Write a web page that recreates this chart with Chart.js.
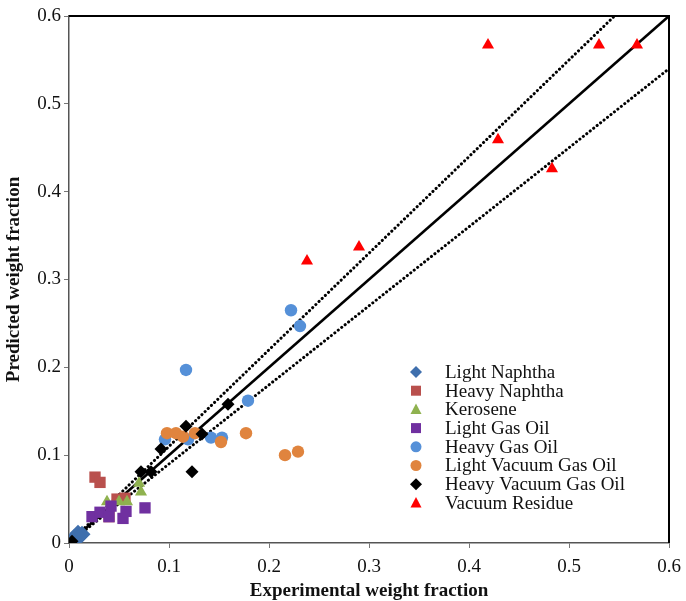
<!DOCTYPE html>
<html>
<head>
<meta charset="utf-8">
<script src="https://cdn.jsdelivr.net/npm/chart.js@4.4.0/dist/chart.umd.min.js"></script>
<style>
  html, body { margin: 0; padding: 0; background: #fff; }
  #wrap { width: 686px; height: 601px; }
</style>
</head>
<body>
<div id="wrap"><canvas id="chart"></canvas></div>
<script>
// series names (legend order)
const seriesNames = ["Light Naphtha", "Heavy Naphtha", "Kerosene", "Light Gas Oil",
  "Heavy Gas Oil", "Light Vacuum Gas Oil", "Heavy Vacuum Gas Oil", "Vacuum Residue"];

// experimental (x) and predicted (y) weight fractions
const lightNaphthaX = [0.005, 0.009, 0.013, 0.010];
const lightNaphthaY = [0.006, 0.011, 0.010, 0.007];
const heavyNaphthaX = [0.026, 0.031, 0.048, 0.056, 0.040];
const heavyNaphthaY = [0.075, 0.069, 0.050, 0.051, 0.030];
const keroseneX = [0.070, 0.072, 0.058, 0.038, 0.050];
const keroseneY = [0.068, 0.058, 0.047, 0.047, 0.047];
const lightGasOilX = [0.023, 0.031, 0.040, 0.042, 0.054, 0.057, 0.076];
const lightGasOilY = [0.030, 0.035, 0.030, 0.042, 0.028, 0.036, 0.040];
const heavyGasOilX = [0.222, 0.231, 0.117, 0.179, 0.096, 0.119, 0.142, 0.153];
const heavyGasOilY = [0.265, 0.247, 0.197, 0.162, 0.118, 0.118, 0.120, 0.120];
const lvgoX = [0.098, 0.107, 0.114, 0.126, 0.152, 0.177, 0.216, 0.229];
const lvgoY = [0.125, 0.125, 0.121, 0.125, 0.115, 0.125, 0.100, 0.104];
const hvgoX = [0.159, 0.117, 0.133, 0.092, 0.072, 0.082, 0.123, 0.003];
const hvgoY = [0.158, 0.133, 0.124, 0.107, 0.081, 0.081, 0.081, 0.002];
const vacResidueX = [0.419, 0.530, 0.568, 0.429, 0.483, 0.290, 0.238];
const vacResidueY = [0.567, 0.567, 0.567, 0.459, 0.426, 0.337, 0.321];

// parity line and +/-10% band end points
const parityX = [0, 0.6];
const parityY = [0, 0.6];
const upperX = [0, 0.5455];
const upperY = [0, 0.6];
const lowerX = [0, 0.6];
const lowerY = [0, 0.54];

const ticksX = [0, 0.1, 0.2, 0.3, 0.4, 0.5, 0.6];

function pts(xs, ys) {
  return xs.map((x, i) => ({ x: x, y: ys[i] }));
}

const serif = "'Liberation Serif', 'Times New Roman', serif";

const markerDefs = [
  { color: "#3F6FAD", style: "rectRot", r: 8.5 },
  { color: "#B9504D", style: "rect", r: 8 },
  { color: "#8FB24F", style: "triangle", r: 7 },
  { color: "#7030A0", style: "rect", r: 8 },
  { color: "#5590D8", style: "circle", r: 6.2 },
  { color: "#E0843E", style: "circle", r: 6.2 },
  { color: "#000000", style: "rectRot", r: 6.5 },
  { color: "#FF0000", style: "triangle", r: 7 }
];

const seriesData = [
  pts(lightNaphthaX, lightNaphthaY),
  pts(heavyNaphthaX, heavyNaphthaY),
  pts(keroseneX, keroseneY),
  pts(lightGasOilX, lightGasOilY),
  pts(heavyGasOilX, heavyGasOilY),
  pts(lvgoX, lvgoY),
  pts(hvgoX, hvgoY),
  pts(vacResidueX, vacResidueY)
];

const datasets = seriesNames.map((name, i) => ({
  label: name,
  data: seriesData[i],
  pointStyle: markerDefs[i].style,
  pointRadius: markerDefs[i].r,
  pointHoverRadius: markerDefs[i].r,
  backgroundColor: markerDefs[i].color,
  borderColor: markerDefs[i].color,
  borderWidth: 0,
  showLine: false,
  order: 20 - i
}));

function refLine(label, xs, ys, dash) {
  return {
    label: label,
    data: pts(xs, ys),
    showLine: true,
    pointRadius: 0,
    borderColor: "#000",
    borderWidth: dash.length ? 3 : 2.6,
    borderDash: dash,
    borderCapStyle: dash.length ? "round" : "butt",
    fill: false,
    order: 100,
    isRef: true
  };
}
datasets.push(refLine("parity", parityX, parityY, []));
datasets.push(refLine("upper", upperX, upperY, [0.1, 4.3]));
datasets.push(refLine("lower", lowerX, lowerY, [0.1, 4.3]));

// top/right frame and the inside legend
const framePlugin = {
  id: "frame",
  afterDatasetsDraw(chart) {
    const { ctx, chartArea: a } = chart;
    ctx.save();
    ctx.strokeStyle = "#000";
    ctx.lineWidth = 2;
    ctx.beginPath();
    ctx.moveTo(a.left, a.top);
    ctx.lineTo(a.right, a.top);
    ctx.lineTo(a.right, a.bottom);
    ctx.stroke();
    ctx.restore();
  },
  afterDraw(chart) {
    const ctx = chart.ctx;
    ctx.save();
    ctx.font = "19px " + serif;
    ctx.textBaseline = "middle";
    let y = 372;
    chart.data.datasets.forEach(ds => {
      if (ds.isRef) return;
      const mx = 416;
      ctx.fillStyle = ds.backgroundColor;
      ctx.beginPath();
      const s = ds.pointStyle;
      if (s === "rectRot") {
        ctx.moveTo(mx, y - 6); ctx.lineTo(mx + 6, y); ctx.lineTo(mx, y + 6); ctx.lineTo(mx - 6, y);
      } else if (s === "rect") {
        ctx.rect(mx - 5, y - 5, 10, 10);
      } else if (s === "triangle") {
        ctx.moveTo(mx, y - 6); ctx.lineTo(mx + 5.5, y + 4.5); ctx.lineTo(mx - 5.5, y + 4.5);
      } else {
        ctx.arc(mx, y, 5.5, 0, Math.PI * 2);
      }
      ctx.closePath();
      ctx.fill();
      ctx.fillStyle = "#111";
      ctx.fillText(ds.label, 445, y + 1);
      y += 18.7;
    });
    ctx.restore();
  }
};

const tickFont = { family: serif, size: 19 };
const titleFont = { family: serif, size: 19, weight: "bold", lineHeight: 1 };

new Chart(document.getElementById("chart"), {
  type: "scatter",
  data: { datasets: datasets },
  options: {
    responsive: true,
    maintainAspectRatio: false,
    animation: false,
    layout: { padding: { top: 16, right: 17, left: 0, bottom: 0 } },
    plugins: { legend: { display: false }, tooltip: { enabled: false } },
    scales: {
      x: {
        type: "linear",
        min: 0,
        max: 0.6,
        afterBuildTicks(scale) { scale.ticks = ticksX.map(v => ({ value: v })); },
        afterFit(scale) { scale.height = 58; },
        ticks: {
          color: "#111",
          font: { family: serif, size: 19, lineHeight: 1.72 },
          padding: 3,
          maxRotation: 0,
          callback: v => (v === 0 ? "0" : v.toFixed(1))
        },
        grid: { drawOnChartArea: false, drawTicks: true, tickLength: 5, color: "#777" },
        border: { color: "#555", width: 1.5 },
        title: { display: true, text: "Experimental weight fraction", font: titleFont, color: "#111", padding: { top: 0, bottom: 0 } }
      },
      y: {
        type: "linear",
        min: 0,
        max: 0.6,
        afterBuildTicks(scale) { scale.ticks = ticksX.map(v => ({ value: v })); },
        afterFit(scale) { scale.width = 69; },
        ticks: {
          color: "#111",
          font: tickFont,
          padding: 3,
          callback: v => (v === 0 ? "0" : v.toFixed(1))
        },
        grid: { drawOnChartArea: false, drawTicks: true, tickLength: 5, color: "#777" },
        border: { color: "#555", width: 1.5 },
        title: { display: true, text: "Predicted weight fraction", font: titleFont, color: "#111", padding: { top: 5, bottom: 0 } }
      }
    }
  },
  plugins: [framePlugin]
});
</script>
</body>
</html>
